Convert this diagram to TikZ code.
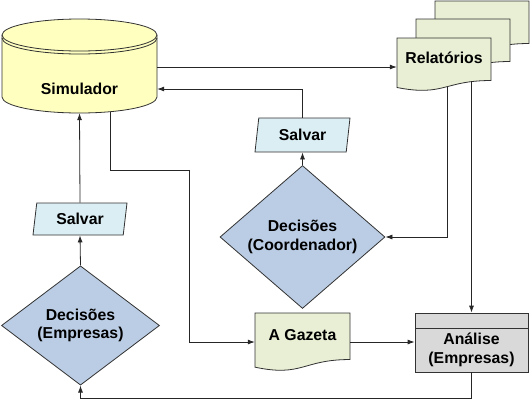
\documentclass[tikz,border=0pt]{standalone}
\usepackage{fontspec}
\setmainfont{Liberation Sans}
\usetikzlibrary{shapes.geometric,arrows.meta,calc}
\definecolor{cylfill}{RGB}{255,255,192}
\definecolor{docfill}{RGB}{232,239,212}
\definecolor{parafill}{RGB}{219,238,244}
\definecolor{diafill}{RGB}{187,205,228}
\definecolor{boxfill}{RGB}{217,217,217}
\definecolor{edge}{RGB}{50,50,50}
\newcommand\DocShape[4]{%
  \draw[docline] (#1,#2) -- ++(#3,0) -- ++(0,0.802*#4)
    .. controls +(-0.5*#3,0) and +(0.5*#3,0.1735*#4) .. (#1,#2+0.934*#4) -- cycle;}
\begin{document}
\begin{tikzpicture}[x=1pt,y=-1pt,
  every node/.style={font=\fontsize{15.8}{18.5}\selectfont\bfseries, align=center, inner sep=0pt},
  txt/.style={rectangle, draw=none},
  docline/.style={draw=edge, fill=docfill, line width=0.8pt},
  para/.style={trapezium, trapezium left angle=72, trapezium right angle=108,
    trapezium stretches body, draw=edge, fill=parafill, line width=0.8pt},
  dia/.style={diamond, draw=edge, fill=diafill, line width=0.8pt},
  box/.style={rectangle, draw=edge, fill=boxfill, line width=0.8pt},
  arr/.style={draw=black!85, line width=0.8pt, -{Latex[length=7pt,width=5pt]}},
  ln/.style={draw=black!85, line width=0.8pt}]
\useasboundingbox (0,0) rectangle (530,400);
% cylinder
\draw[draw=edge, fill=cylfill, line width=0.8pt] (2,35) -- (2,97)
  arc[start angle=180, end angle=360, x radius=77.5pt, y radius=16pt] -- (157,35)
  arc[start angle=0, end angle=180, x radius=77.5pt, y radius=16pt] -- cycle;
\draw[draw=edge, line width=0.8pt] (2,35) arc[start angle=180, end angle=360, x radius=77.5pt, y radius=16pt];
\draw[draw=edge, line width=0.8pt] (2,38) arc[start angle=180, end angle=360, x radius=77.5pt, y radius=16pt];
% documents
\DocShape{435}{1}{94}{53}
\DocShape{416}{19}{94}{53}
\DocShape{397}{38}{94}{53}
\DocShape{255}{313}{95}{58}
% nodes
\node[txt, minimum width=155pt, minimum height=48pt] (sim) at (79.5,89) {Simulador};
\node[txt, minimum width=94pt, minimum height=40pt] (rel) at (444,58) {Relatórios};
\node[txt, minimum width=95pt, minimum height=46pt] (gaz) at (302.5,335) {A Gazeta};
\node[para, minimum width=94pt, minimum height=32pt] (sv1) at (80,219) {Salvar};
\node[para, minimum width=95pt, minimum height=34pt] (sv2) at (302.5,135) {Salvar};
\node[dia, minimum width=158pt, minimum height=95pt] (de) at (80.5,325.5) {Decisões\\(Empresas)};
\node[dia, minimum width=165pt, minimum height=90pt] (dc) at (302.5,237) {Decisões\\(Coordenador)};
\node[box, minimum width=113pt, minimum height=15pt] (anah) at (471.5,320.5) {};
\node[box, minimum width=113pt, minimum height=44pt] (ana) at (471.5,350) {Análise\\(Empresas)};
% connectors
\coordinate (simout) at ($(sim.east)+(0,-22)$);
\draw[arr] (simout) -- (simout -| rel.west);
\draw[arr] (sv2.north) |- (sim.east);
\draw[arr] (dc.north) -- (sv2.south);
\coordinate (relA) at ($(rel.south)+(3,9)$);
\draw[arr] (relA) |- (dc.east);
\coordinate (relB) at ($(rel.south -| anah.north)+(0,3)$);
\draw[arr] (relB) -- (anah.north);
\draw[arr] (sv1.north) -- (sim.south);
\draw[arr] (de.north) -- (sv1.south);
\coordinate (simB) at ($(sim.south)+(31,-1)$);
\coordinate (gazin) at ($(gaz.west)+(0,7)$);
\draw[arr] (simB) -- ($(simB)+(0,58)$) -| ($(gazin)+(-65,0)$) -- (gazin);
\coordinate (gazout) at ($(gaz.east)+(0,7)$);
\draw[arr] (gazout) -- (gazout -| ana.west);
\draw[arr] (ana.south) -- ++(0,26) -| (de.south);
\end{tikzpicture}
\end{document}
